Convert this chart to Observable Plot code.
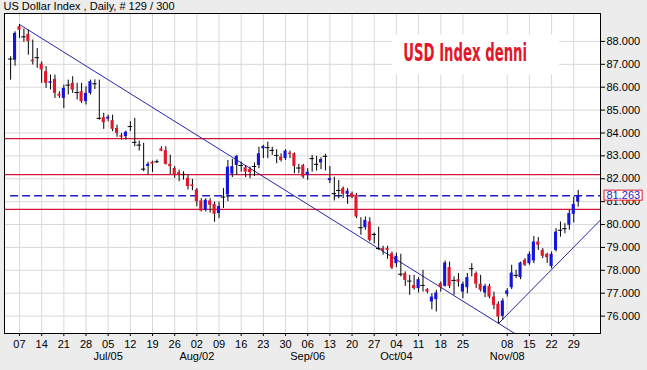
<!DOCTYPE html>
<html><head><meta charset="utf-8">
<script src="https://cdn.jsdelivr.net/npm/d3@7"></script>
<script src="https://cdn.jsdelivr.net/npm/@observablehq/plot@0.6"></script>
<style>
html,body{margin:0;padding:0;background:#ececec;}
#chart svg{display:block;}
</style>
</head><body><div id="chart"></div>
<script>
const titleText = "US Dollar Index , Daily, # 129 / 300";
const annotationText = "USD Index denni";
const firstDay = "2010-06-03";

const opens = [87.23,87.18,88.64,88.20,88.31,87.18,87.29,87.01,86.68,86.17,
86.34,85.69,85.51,86.09,86.17,85.77,85.80,85.37,85.73,86.15,
84.64,84.67,84.61,84.54,84.20,83.88,83.84,84.28,83.59,83.47,
82.42,82.54,82.72,82.74,83.30,83.23,82.63,82.45,82.27,82.19,
82.02,81.73,81.51,81.03,80.62,81.03,80.88,80.48,81.20,81.30,
82.20,82.58,82.58,82.48,82.40,82.54,82.58,83.31,83.36,83.24,
83.02,82.95,82.88,83.12,83.09,82.47,82.58,82.15,82.88,82.63,
82.69,82.98,81.92,81.35,81.49,81.57,81.32,81.35,81.28,79.86,
79.86,80.11,79.57,78.95,78.95,78.95,78.72,78.29,77.83,77.86,
77.53,77.34,77.20,77.34,77.16,76.62,76.72,77.42,77.30,78.12,
77.56,77.59,77.05,77.24,78.07,77.86,77.39,77.01,77.30,76.83,
76.52,75.99,76.95,77.24,77.78,77.68,78.44,78.29,78.41,79.24,
78.87,78.70,78.17,78.87,79.75,79.82,79.97,80.45,80.98];

const highs = [87.33,88.42,88.74,88.54,88.49,88.06,87.69,87.11,86.90,86.53,
86.53,85.80,86.09,86.31,86.46,86.17,86.17,86.02,86.31,86.32,
86.31,84.86,84.78,84.78,84.34,83.98,84.08,84.49,84.64,83.65,
83.55,82.72,82.77,82.82,83.40,83.40,83.03,82.53,82.38,82.31,
82.16,81.97,81.58,81.13,81.13,81.13,80.98,80.98,81.57,82.80,
82.85,83.02,82.73,82.58,82.51,82.69,83.38,83.46,83.60,83.38,
83.27,83.09,83.27,83.21,83.13,82.63,82.63,82.44,83.02,82.98,
82.92,83.07,82.54,82.07,81.93,81.64,81.57,81.42,81.35,80.30,
80.33,80.30,79.63,79.88,79.05,79.05,78.80,78.75,78.70,77.93,
77.78,77.78,77.68,78.00,77.20,76.98,77.13,77.49,78.41,78.36,
77.71,77.86,77.49,77.86,78.29,77.93,77.78,77.39,77.39,77.05,
76.62,76.76,77.20,78.22,78.00,78.36,78.51,78.80,79.48,79.43,
78.95,78.75,78.80,79.82,80.11,80.04,80.62,81.20,81.49];

const lows = [86.31,86.92,88.13,87.96,87.40,86.97,86.82,86.17,85.95,85.88,
85.51,85.51,85.07,85.66,85.73,85.44,85.29,85.22,85.66,85.90,
84.56,84.16,84.49,84.06,83.81,83.69,83.69,84.06,83.40,83.21,
82.31,82.16,82.28,82.67,83.18,82.60,82.19,82.02,81.87,81.94,
81.51,81.48,80.78,80.55,80.55,80.50,80.10,80.26,80.70,81.00,
82.05,82.15,82.29,82.05,82.00,82.10,82.44,82.88,82.88,83.02,
82.66,82.73,82.80,82.88,82.22,82.22,82.00,81.93,82.29,82.34,
82.40,82.34,81.79,81.03,81.13,81.13,80.88,81.13,80.26,79.53,
79.75,79.24,79.16,78.87,78.66,78.48,78.03,78.12,77.71,77.30,
76.91,77.13,77.01,77.05,76.98,76.28,76.18,77.05,77.27,77.20,
76.91,77.27,76.76,76.98,77.71,77.20,77.05,76.81,76.76,76.28,
75.67,75.82,76.83,77.16,77.64,77.59,78.17,78.22,78.29,78.87,
78.51,78.30,78.07,78.80,79.45,79.60,79.75,80.07,80.76];

const closes = [87.23,88.35,88.49,88.20,87.99,87.11,87.29,86.75,86.17,86.24,
85.73,85.61,85.95,86.09,85.87,85.77,85.37,85.73,86.24,86.15,
84.64,84.45,84.69,84.16,83.98,83.81,84.03,84.28,83.59,83.47,
82.42,82.63,82.64,82.74,83.21,82.63,82.53,82.14,82.16,82.19,
81.66,81.66,81.00,80.59,81.06,80.84,80.45,80.79,81.20,82.51,
82.53,82.98,82.58,82.29,82.27,82.54,83.09,83.41,83.36,83.24,
83.02,82.80,83.21,83.06,82.54,82.47,82.07,82.29,82.88,82.63,
82.84,82.98,82.00,81.35,81.49,81.32,81.46,81.20,80.33,79.86,
80.18,79.31,79.57,78.95,78.84,78.87,78.10,78.61,77.83,77.56,
77.53,77.20,77.59,77.34,77.05,76.83,77.01,77.24,78.32,77.30,
77.56,77.48,77.39,77.68,78.07,77.39,77.13,77.30,76.83,76.47,
75.96,76.66,77.10,77.88,77.78,78.32,78.22,78.70,79.24,79.09,
78.61,78.55,78.70,79.67,79.75,79.82,80.48,80.88,81.263];

const weekTicks = ["2010-06-07","2010-06-14","2010-06-21","2010-06-28","2010-07-05","2010-07-12","2010-07-19","2010-07-26",
"2010-08-02","2010-08-09","2010-08-16","2010-08-23","2010-08-30","2010-09-06","2010-09-13","2010-09-20","2010-09-27",
"2010-10-04","2010-10-11","2010-10-18","2010-10-25","2010-11-08","2010-11-15","2010-11-22","2010-11-29"];
const monthTicks = ["2010-07-05","2010-08-02","2010-09-06","2010-10-04","2010-11-08"];
const monthLabels = ["Jul/05","Aug/02","Sep/06","Oct/04","Nov/08"];
const yTicks = [76,77,78,79,80,81,82,83,84,85,86,87,88];
const levels = [83.75, 82.18, 80.66];
const lastPrice = 81.263;
const trendDown = [{i: 2, v: 88.74}, {i: 113.7, v: 75.24}];
const trendUp = [{i: 110, v: 75.67}, {i: 133.03, v: 80.20}];

const BLUE = "#1414dc", RED = "#e2172b", LEVEL = "#d2153a", TREND = "#2626a8", DASH = "#1c1cc8";

const N = closes.length;
const parse = d3.utcParse("%Y-%m-%d"), fmt = d3.utcFormat("%Y-%m-%d");
const start = parse(firstDay);
const days = d3.utcDay.range(start, d3.utcDay.offset(start, 300)).filter(d => d.getUTCDay() % 6 !== 0).slice(0, N);
const idxOf = new Map(days.map((d, i) => [fmt(d), i]));
const candles = d3.range(N).map(i => ({i, date: days[i], open: opens[i], high: highs[i], low: lows[i], close: closes[i]}));
const bodies = candles.filter(d => d.open !== d.close);
const dojis = candles.filter(d => d.open === d.close);
const weekIdx = weekTicks.map(s => idxOf.get(s));
const monthIdx = monthTicks.map(s => idxOf.get(s));
const dayLabel = new Map(weekIdx.map((i, k) => [i, weekTicks[k].slice(8)]));
const monthLabel = new Map(monthIdx.map((i, k) => [i, monthLabels[k]]));
const xDomain = [-1.38, 133.03];
const yDomain = [75.24, 89.22];
const priceText = d3.format(".3f")(lastPrice);

const chart = Plot.plot({
  width: 647, height: 370,
  marginLeft: 4, marginRight: 47, marginTop: 13, marginBottom: 37,
  style: {background: "#ececec", fontFamily: "'Liberation Sans', Arial, sans-serif", fontSize: "11px", color: "black", overflow: "visible"},
  x: {type: "linear", domain: xDomain},
  y: {type: "linear", domain: yDomain},
  marks: [
    Plot.frame({fill: "white"}),
    Plot.gridY(yTicks, {stroke: "#d8d8d8", strokeOpacity: 1}),
    Plot.gridX(weekIdx, {stroke: "#d8d8d8", strokeOpacity: 1}),
    Plot.text([annotationText], {frameAnchor: "top-left", dx: 398.7, dy: 39, textAnchor: "start", lineAnchor: "middle",
      fontSize: 25, fontWeight: "bold", fontFamily: "'DejaVu Sans', sans-serif", fill: RED}),
    Plot.ruleY(levels, {stroke: LEVEL, strokeWidth: 1.2}),
    Plot.ruleY([lastPrice], {x1: candles[0].i, x2: xDomain[1], stroke: DASH, strokeWidth: 1.5, strokeDasharray: "8,4"}),
    Plot.line(trendDown, {x: "i", y: "v", stroke: TREND, strokeWidth: 1, clip: true}),
    Plot.line(trendUp, {x: "i", y: "v", stroke: TREND, strokeWidth: 1, clip: true}),
    Plot.ruleX(candles, {x: "i", y1: "low", y2: "high", stroke: "black", strokeWidth: 1}),
    Plot.rect(bodies, {x1: d => d.i - 0.35, x2: d => d.i + 0.35, y1: "open", y2: "close",
      fill: d => d.close > d.open ? BLUE : RED}),
    Plot.ruleY(dojis, {y: "open", x1: d => d.i - 0.5, x2: d => d.i + 0.5, stroke: "black", strokeWidth: 1}),
    Plot.frame({stroke: "black"}),
    Plot.axisY(yTicks, {anchor: "right", tickSize: 4, tickPadding: 2, tickFormat: d3.format(".3f"), fontSize: 11, label: null}),
    Plot.axisX(weekIdx, {anchor: "bottom", tickSize: 3, tickPadding: 4, tickFormat: i => dayLabel.get(i), fontSize: 11, label: null}),
    Plot.axisX(monthIdx, {anchor: "bottom", tickSize: 0, tickPadding: 19, tickFormat: i => monthLabel.get(i), fontSize: 11, label: null}),
    Plot.text([titleText], {frameAnchor: "top-left", dx: -1, dy: -7, textAnchor: "start", lineAnchor: "middle", fontSize: 11, fill: "black"}),
    Plot.text([lastPrice], {y: d => d, frameAnchor: "right", dx: 6, textAnchor: "start", lineAnchor: "middle",
      text: () => priceText, fontSize: 11, fill: DASH})
  ]
});
document.getElementById("chart").append(chart);

function findText(str) {
  return Array.from(chart.querySelectorAll("text")).find(t => t.textContent === str);
}
function boxBehind(textNode, b, pad, tr, style) {
  const r = document.createElementNS("http://www.w3.org/2000/svg", "rect");
  r.setAttribute("x", b.x - pad[3]);
  r.setAttribute("y", b.y - pad[0]);
  r.setAttribute("width", b.width + pad[1] + pad[3]);
  r.setAttribute("height", b.height + pad[0] + pad[2]);
  if (tr) r.setAttribute("transform", tr);
  for (const k in style) r.setAttribute(k, style[k]);
  textNode.parentNode.insertBefore(r, textNode);
  return r;
}

// annotation: condensed look by horizontal scaling to the reference width, white box behind
const annNode = findText(annotationText);
if (annNode) {
  const tr = annNode.getAttribute("transform") || "";
  const b = annNode.getBBox();
  const targetW = 124;
  const sx = targetW / b.width;
  annNode.setAttribute("transform", tr + ` scale(${sx},1)`);
  boxBehind(annNode, {x: b.x * sx, y: b.y, width: targetW, height: b.height}, [3, 32, 8, 11], tr, {fill: "white"});
}
const priceNode = findText(priceText);
if (priceNode) {
  boxBehind(priceNode, priceNode.getBBox(), [-1, 2, -1, 2.5], priceNode.getAttribute("transform"),
    {fill: "white", stroke: RED, "stroke-width": 1});
}
</script>
</body></html>
